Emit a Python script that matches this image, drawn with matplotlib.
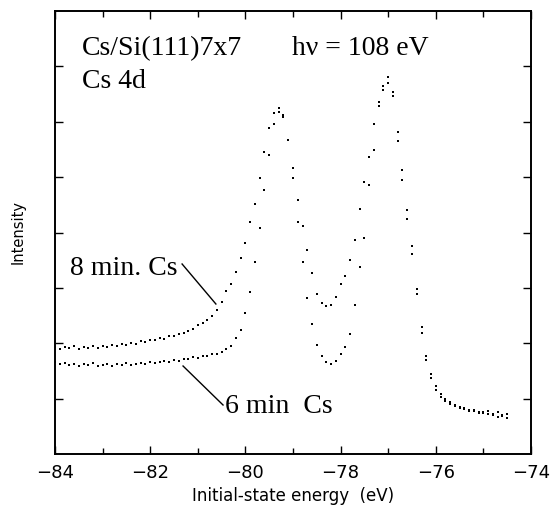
import matplotlib
matplotlib.use('Agg')
import matplotlib.pyplot as plt
from matplotlib.ticker import MultipleLocator

# ── Data (arbitrary intensity units) ───────────────────────────────────────
energy = [-84.0, -83.9, -83.8, -83.7, -83.6, -83.5, -83.4, -83.3, -83.2, -83.1,
          -83.0, -82.9, -82.8, -82.7, -82.6, -82.5, -82.4, -82.3, -82.2, -82.1,
          -82.0, -81.9, -81.8, -81.7, -81.6, -81.5, -81.4, -81.3, -81.2, -81.1,
          -81.0, -80.9, -80.8, -80.7, -80.6, -80.5, -80.4, -80.3, -80.2, -80.1,
          -80.0, -79.9, -79.8, -79.7, -79.6, -79.5, -79.4, -79.3, -79.2, -79.1,
          -79.0, -78.9, -78.8, -78.7, -78.6, -78.5, -78.4, -78.3, -78.2, -78.1,
          -78.0, -77.9, -77.8, -77.7, -77.6, -77.5, -77.4, -77.3, -77.2, -77.1,
          -77.0, -76.9, -76.8, -76.7, -76.6, -76.5, -76.4, -76.3, -76.2, -76.1,
          -76.0, -75.9, -75.8, -75.7, -75.6, -75.5, -75.4, -75.3, -75.2, -75.1,
          -75.0, -74.9, -74.8, -74.7, -74.6, -74.5]

cs_8min = [107, 105, 107, 106, 108, 105, 107, 106, 108, 106,
           108, 107, 109, 108, 110, 109, 111, 110, 113, 112,
           114, 114, 116, 115, 118, 118, 120, 121, 123, 125,
           129, 131, 134, 138, 144, 152, 163, 170, 182, 196,
           211, 232, 250, 276, 302, 326, 341, 346, 339, 314,
           286, 254, 228, 204, 181, 160, 151, 148, 149, 157,
           170, 178, 194, 214, 245, 272, 297, 330, 352, 368,
           377, 358, 313, 274, 235, 200, 160, 121, 94, 76,
           64, 57, 53, 50, 48, 47, 45, 44, 43, 42,
           41, 43, 40, 42, 39, 40]

cs_6min = [92, 90, 91, 89, 90, 88, 90, 89, 91, 88,
           89, 90, 88, 90, 89, 91, 89, 90, 91, 90,
           92, 91, 92, 93, 92, 94, 93, 95, 95, 97,
           96, 98, 98, 100, 100, 102, 105, 108, 116, 124,
           141, 162, 192, 226, 264, 299, 330, 342, 337, 314,
           276, 232, 192, 156, 130, 109, 98, 92, 90, 93,
           100, 107, 120, 149, 187, 216, 269, 304, 348, 364,
           371, 362, 322, 284, 244, 208, 165, 127, 98, 80,
           68, 60, 55, 52, 49, 46, 46, 43, 44, 41,
           42, 40, 39, 37, 38, 36]

fig = plt.figure(figsize=(5.56, 5.12), dpi=100)
ax = fig.add_axes([55/556, 1 - 454/512, 476/556, 443/512])

ax.plot(energy, cs_8min, 's', color='black', ms=1.5, mew=0)
ax.plot(energy, cs_6min, 's', color='black', ms=1.5, mew=0)

ax.set_xlim(-84, -74)
ax.set_ylim(0, 443)
ax.xaxis.set_major_locator(MultipleLocator(2))
ax.xaxis.set_minor_locator(MultipleLocator(1))
ax.set_yticks([443/8*k for k in range(1, 8)])
ax.set_yticklabels([])
ax.tick_params(which='both', direction='in', top=True, right=True, width=1.0)
ax.tick_params(which='major', length=6, labelsize=13, pad=7)
ax.tick_params(which='minor', length=4)
for s in ax.spines.values():
    s.set_linewidth(1.4)

ax.set_xlabel('Initial-state energy  (eV)', fontsize=12, labelpad=4)
ax.set_ylabel('Intensity', fontsize=10.5, labelpad=14)

serif = 'Liberation Serif'
ax.text(-83.43, 399, 'Cs/Si(111)7x7', family=serif, fontsize=20, va='baseline')
ax.text(-79.02, 399, 'h\u03bd = 108 eV', family=serif, fontsize=20, va='baseline')
ax.text(-83.43, 366, 'Cs 4d', family=serif, fontsize=20, va='baseline')
ax.text(-83.68, 179, '8 min. Cs', family=serif, fontsize=20, va='baseline')
ax.text(-80.43, 41, '6 min  Cs', family=serif, fontsize=20, va='baseline')

# leader lines to the two spectra
ax.plot([-81.33, -80.62], [190, 150], color='black', lw=1.0)
ax.plot([-81.31, -80.47], [88, 49], color='black', lw=1.0)

fig.savefig('out.png', dpi=100, facecolor='white')
